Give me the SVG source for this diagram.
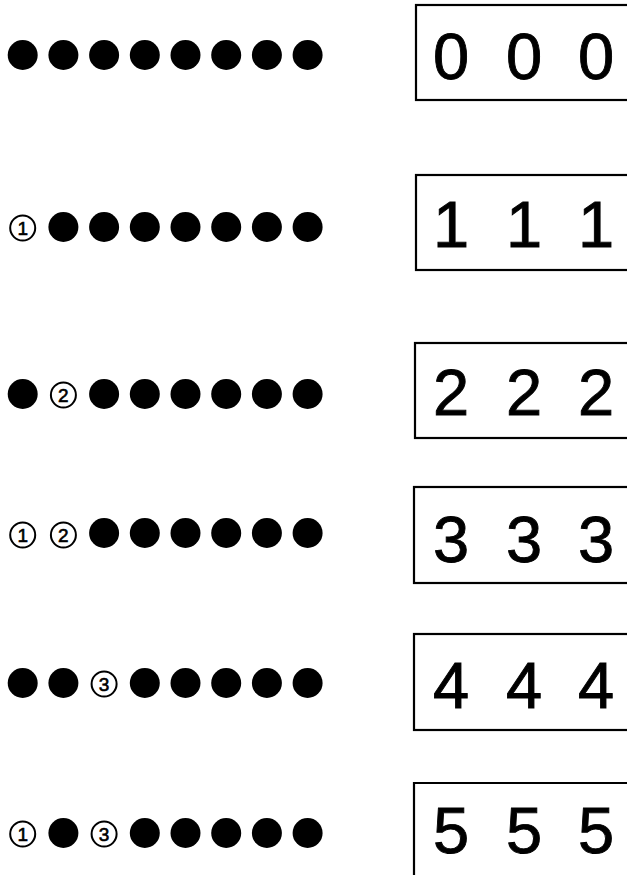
<svg xmlns="http://www.w3.org/2000/svg" width="627" height="875" viewBox="0 0 627 875">
<style>
.dot{fill:#000}
.cn{fill:none;stroke:#000;stroke-width:2}
.cd{font-family:"Liberation Sans",Arial,sans-serif;font-size:19px;text-anchor:middle;fill:#000;stroke:#000;stroke-width:0.6}
.box{fill:none;stroke:#000;stroke-width:2.2}
.dg{font-family:"Liberation Sans",Arial,sans-serif;font-size:65px;text-anchor:middle;fill:#000;stroke:#000;stroke-width:0.9}
</style>
<rect width="627" height="875" fill="#fff"/>
<defs>
<circle id="d" r="15" class="dot"/>
</defs>
<!-- Row 1 -->
<g id="row1">
<use href="#d" x="22.7" y="55"/><use href="#d" x="63.4" y="55"/><use href="#d" x="104.1" y="55"/><use href="#d" x="144.8" y="55"/><use href="#d" x="185.5" y="55"/><use href="#d" x="226.2" y="55"/><use href="#d" x="266.9" y="55"/><use href="#d" x="307.6" y="55"/>
</g>
<g id="box1">
<rect class="box" x="416" y="5" width="220" height="95"/>
<text class="dg" x="451" y="79">0</text><text class="dg" x="524" y="79">0</text><text class="dg" x="596" y="79">0</text>
</g>
<!-- Row 2 -->
<g id="row2">
<circle class="cn" cx="22.7" cy="228" r="12.5"/><text class="cd" x="22.7" y="235">1</text>
<use href="#d" x="63.4" y="227"/><use href="#d" x="104.1" y="227"/><use href="#d" x="144.8" y="227"/><use href="#d" x="185.5" y="227"/><use href="#d" x="226.2" y="227"/><use href="#d" x="266.9" y="227"/><use href="#d" x="307.6" y="227"/>
</g>
<g id="box2">
<rect class="box" x="416" y="175" width="220" height="95"/>
<text class="dg" x="451" y="247">1</text><text class="dg" x="524" y="247">1</text><text class="dg" x="596" y="247">1</text>
</g>
<!-- Row 3 -->
<g id="row3">
<use href="#d" x="22.7" y="394"/>
<circle class="cn" cx="63.4" cy="395" r="12.5"/><text class="cd" x="63.4" y="402">2</text>
<use href="#d" x="104.1" y="394"/><use href="#d" x="144.8" y="394"/><use href="#d" x="185.5" y="394"/><use href="#d" x="226.2" y="394"/><use href="#d" x="266.9" y="394"/><use href="#d" x="307.6" y="394"/>
</g>
<g id="box3">
<rect class="box" x="415" y="343" width="220" height="95"/>
<text class="dg" x="451" y="415">2</text><text class="dg" x="524" y="415">2</text><text class="dg" x="596" y="415">2</text>
</g>
<!-- Row 4 -->
<g id="row4">
<circle class="cn" cx="22.7" cy="535" r="12.5"/><text class="cd" x="22.7" y="542">1</text>
<circle class="cn" cx="63.4" cy="535" r="12.5"/><text class="cd" x="63.4" y="542">2</text>
<use href="#d" x="104.1" y="533"/><use href="#d" x="144.8" y="533"/><use href="#d" x="185.5" y="533"/><use href="#d" x="226.2" y="533"/><use href="#d" x="266.9" y="533"/><use href="#d" x="307.6" y="533"/>
</g>
<g id="box4">
<rect class="box" x="414" y="487" width="220" height="96"/>
<text class="dg" x="451" y="562">3</text><text class="dg" x="524" y="562">3</text><text class="dg" x="596" y="562">3</text>
</g>
<!-- Row 5 -->
<g id="row5">
<use href="#d" x="22.7" y="683"/><use href="#d" x="63.4" y="683"/>
<circle class="cn" cx="104.1" cy="684" r="12.5"/><text class="cd" x="104.1" y="691">3</text>
<use href="#d" x="144.8" y="683"/><use href="#d" x="185.5" y="683"/><use href="#d" x="226.2" y="683"/><use href="#d" x="266.9" y="683"/><use href="#d" x="307.6" y="683"/>
</g>
<g id="box5">
<rect class="box" x="414" y="634" width="220" height="96"/>
<text class="dg" x="451" y="708">4</text><text class="dg" x="524" y="708">4</text><text class="dg" x="596" y="708">4</text>
</g>
<!-- Row 6 -->
<g id="row6">
<circle class="cn" cx="22.7" cy="834" r="12.5"/><text class="cd" x="22.7" y="841">1</text>
<use href="#d" x="63.4" y="833"/>
<circle class="cn" cx="104.1" cy="834" r="12.5"/><text class="cd" x="104.1" y="841">3</text>
<use href="#d" x="144.8" y="833"/><use href="#d" x="185.5" y="833"/><use href="#d" x="226.2" y="833"/><use href="#d" x="266.9" y="833"/><use href="#d" x="307.6" y="833"/>
</g>
<g id="box6">
<path class="box" d="M414 890 V783 H636"/>
<text class="dg" x="451" y="853">5</text><text class="dg" x="524" y="853">5</text><text class="dg" x="596" y="853">5</text>
</g>
<g id="connectors"/>
</svg>
